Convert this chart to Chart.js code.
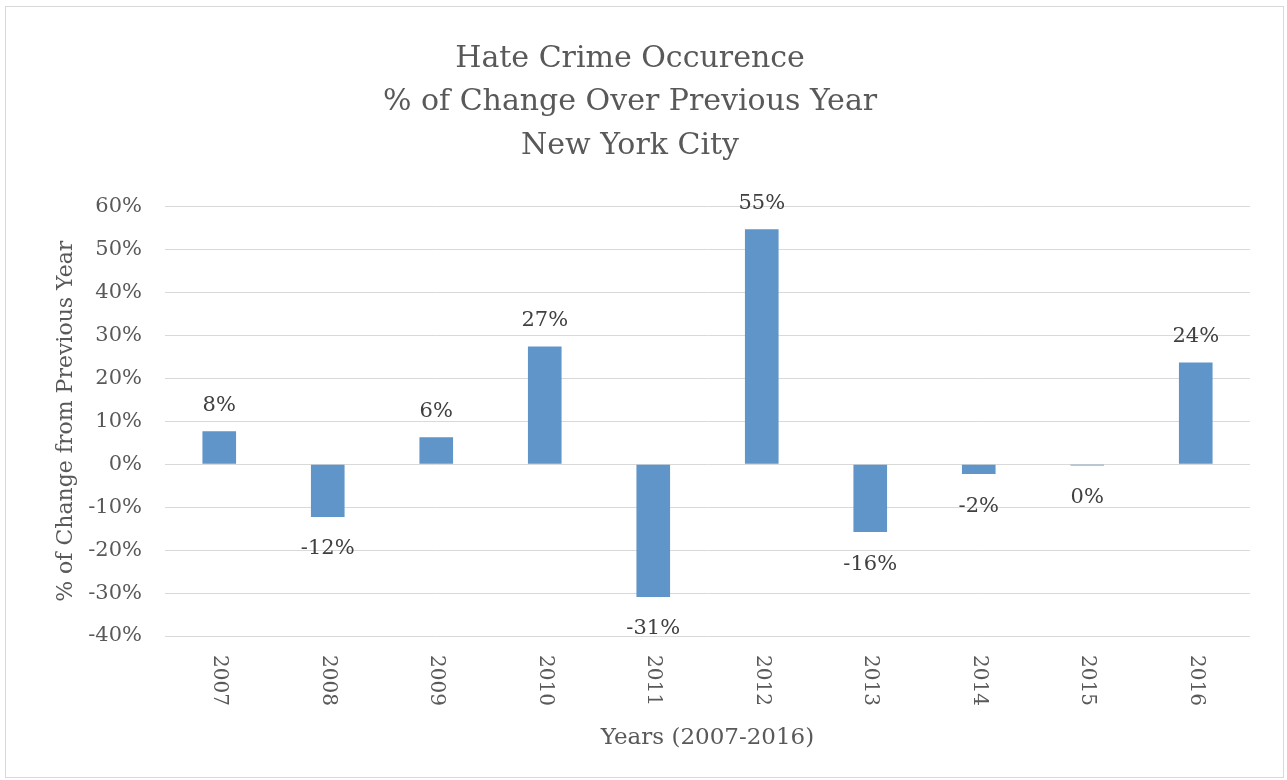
<!DOCTYPE html>
<html>
<head>
<meta charset="utf-8">
<script src="https://cdn.jsdelivr.net/npm/chart.js@4"></script>
<style>
  body { margin: 0; background: #fff; }
  #wrap { width: 1287px; height: 780px; position: relative; }
</style>
</head>
<body>
<div id="wrap"><canvas id="hateChart"></canvas></div>
<script>
// years on the x axis
const years = ['2007', '2008', '2009', '2010', '2011', '2012', '2013', '2014', '2015', '2016'];
// % change over previous year
const pctChange = [7.7, -12.3, 6.3, 27.4, -30.9, 54.7, -15.8, -2.3, -0.3, 23.7];
// y axis ticks
const yMin = -40;
const yMax = 60;
const yStep = 10;

const textColor = '#595959';
const gridColor = '#d9d9d9';
const fontFamily = '"DejaVu Serif", serif';

// value labels above / below each bar
const barLabels = {
    id: 'barLabels',
    afterDatasetsDraw(chart) {
        const ctx = chart.ctx;
        const meta = chart.getDatasetMeta(0);
        ctx.save();
        ctx.font = '21px ' + fontFamily;
        ctx.fillStyle = '#404040';
        ctx.textAlign = 'center';
        ctx.textBaseline = 'middle';
        meta.data.forEach(function(bar, i) {
            const v = pctChange[i];
            const y = v >= 0 ? bar.y - 26 : bar.y + 32;
            ctx.fillText(`${Math.round(v)}%`, bar.x, y);
        });
        ctx.restore();
    }
};

// x tick labels turned clockwise (reading top to bottom)
const xTicks = {
    id: 'xTicks',
    afterDraw(chart) {
        const ctx = chart.ctx;
        const scale = chart.scales.x;
        ctx.save();
        ctx.font = '20px ' + fontFamily;
        ctx.fillStyle = textColor;
        ctx.textAlign = 'left';
        ctx.textBaseline = 'middle';
        scale.ticks.forEach(function(t, i) {
            const x = scale.getPixelForTick(i);
            ctx.save();
            ctx.translate(x, scale.top + 19);
            ctx.rotate(Math.PI / 2);
            ctx.fillText(years[i], 0, 0);
            ctx.restore();
        });
        ctx.restore();
    }
};

// thin frame round the whole chart
const frame = {
    id: 'frame',
    beforeDraw(chart) {
        const ctx = chart.ctx;
        ctx.save();
        ctx.fillStyle = '#fff';
        ctx.fillRect(0, 0, chart.width, chart.height);
        ctx.strokeStyle = '#d9d9d9';
        ctx.lineWidth = 1;
        ctx.strokeRect(5.5, 6.5, chart.width - 9, chart.height - 9);
        ctx.restore();
    }
};

new Chart(document.getElementById('hateChart'), {
    type: 'bar',
    data: {
        labels: years,
        datasets: [{
            label: '% change',
            data: pctChange,
            backgroundColor: '#5f95c8',
            borderWidth: 0,
            barPercentage: 0.31,
            categoryPercentage: 1.0
        }]
    },
    options: {
        responsive: true,
        maintainAspectRatio: false,
        animation: false,
        layout: {
            padding: { left: 10, right: 37, top: 10, bottom: 20 }
        },
        plugins: {
            legend: { display: false },
            tooltip: { enabled: false },
            title: {
                display: true,
                text: ['Hate Crime Occurence', '% of Change Over Previous Year', 'New York City'],
                color: textColor,
                font: { family: fontFamily, size: 30, weight: 'normal', lineHeight: 1.45 },
                padding: { top: 27, bottom: 39 }
            }
        },
        scales: {
            x: {
                grid: { display: false },
                border: { display: false },
                ticks: {
                    color: 'rgba(0,0,0,0)',
                    minRotation: 90,
                    maxRotation: 90,
                    font: { family: fontFamily, size: 20 }
                },
                title: {
                    display: true,
                    text: 'Years (2007-2016)',
                    color: textColor,
                    font: { family: fontFamily, size: 23 },
                    padding: { top: 0, bottom: 8 }
                },
                afterFit: function(s) { s.height = 124; }
            },
            y: {
                min: yMin,
                max: yMax,
                grid: { color: gridColor, lineWidth: 1, drawTicks: false },
                border: { display: false },
                ticks: {
                    stepSize: yStep,
                    padding: 23,
                    color: textColor,
                    font: { family: fontFamily, size: 21 },
                    callback: function(v) { return v + '%'; }
                },
                title: {
                    display: true,
                    text: '% of Change from Previous Year',
                    color: textColor,
                    font: { family: fontFamily, size: 22 },
                    padding: { top: 43, bottom: 0 }
                },
                afterFit: function(s) { s.width = 155; }
            }
        }
    },
    plugins: [frame, barLabels, xTicks]
});
</script>
</body>
</html>
